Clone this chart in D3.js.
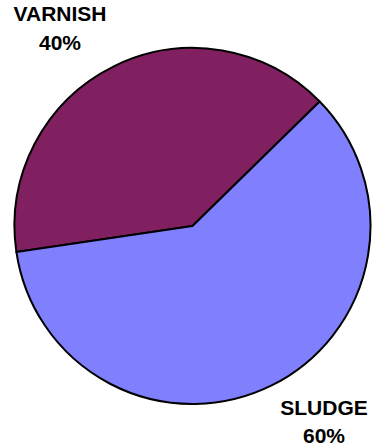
<!DOCTYPE html>
<html><head><meta charset="utf-8">
<script src="https://cdn.jsdelivr.net/npm/d3@7"></script>
<style>html,body{margin:0;padding:0;background:#fff;}</style>
</head><body>
<svg id="c" width="372" height="448"></svg>
<script>
const categories = ["VARNISH", "SLUDGE"];
const values = [40, 60];
const labels = ["40%", "60%"];
const colors = ["#802060", "#8080FF"];

const svg = d3.select("#c");
const cx = 192.5, cy = 226, r = 178;
const start = -98.4 * Math.PI / 180;
const pie = d3.pie().sort(null).startAngle(start).endAngle(start + 2 * Math.PI);
const arcs = pie(values);
const arc = d3.arc().innerRadius(0).outerRadius(r);
const color = d3.scaleOrdinal().domain(categories).range(colors);

const g = svg.append("g").attr("transform", `translate(${cx},${cy})`);
g.selectAll("path").data(arcs).enter().append("path")
  .attr("d", arc)
  .attr("fill", (d, i) => color(categories[i]))
  .attr("stroke", "#000")
  .attr("stroke-width", 2)
  .attr("stroke-linejoin", "round");

const labelPos = [[60, 21, 50], [324, 415, 443]];
const lg = svg.append("g")
  .attr("font-family", "Liberation Sans, Arial, sans-serif")
  .attr("font-weight", "bold")
  .attr("font-size", 21)
  .attr("text-anchor", "middle")
  .attr("fill", "#000");
categories.forEach((c, i) => {
  lg.append("text").attr("x", labelPos[i][0]).attr("y", labelPos[i][1]).text(c);
  lg.append("text").attr("x", labelPos[i][0]).attr("y", labelPos[i][2]).text(labels[i]);
});
</script>
</body></html>
